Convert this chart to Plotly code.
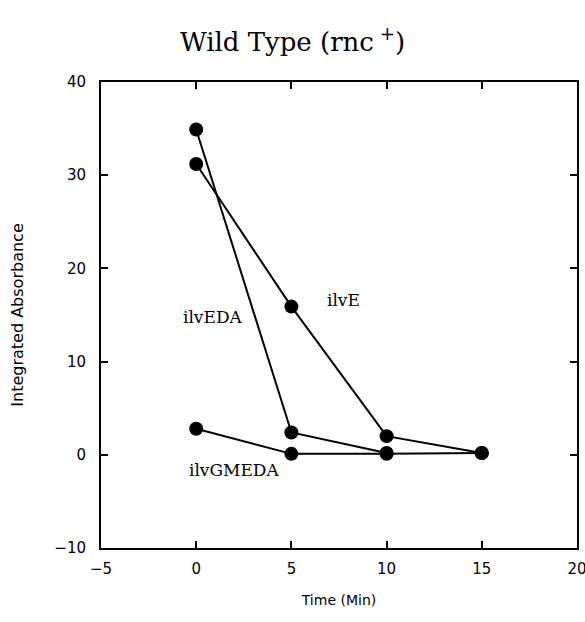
import plotly.graph_objects as go

time_eda = [0, 5, 10]
ilvEDA = [34.9, 2.4, 0.2]
time_e = [0, 5, 10, 15]
ilvE = [31.2, 15.9, 2.0, 0.2]
time_gmeda = [0, 5, 10, 15]
ilvGMEDA = [2.8, 0.1, 0.1, 0.2]

x_ticks = [-5, 0, 5, 10, 15, 20]
y_ticks = [-10, 0, 10, 20, 30, 40]

fig = go.Figure()
for xs, ys, name in [(time_eda, ilvEDA, "ilvEDA"), (time_e, ilvE, "ilvE"), (time_gmeda, ilvGMEDA, "ilvGMEDA")]:
    fig.add_trace(go.Scatter(x=xs, y=ys, mode="lines+markers", name=name,
                             line=dict(color="black", width=2),
                             marker=dict(color="black", size=14)))

labels = [("ilvEDA", 0.9, 14.8), ("ilvE", 7.75, 16.6), ("ilvGMEDA", 2.0, -1.6)]
for text, x, y in labels:
    fig.add_annotation(x=x, y=y, text=text, showarrow=False,
                       font=dict(family="DejaVu Serif", size=17, color="black"))

axis_common = dict(showline=True, linecolor="black", linewidth=2, mirror="ticks",
                   ticks="inside", ticklen=7, tickwidth=1.5, tickcolor="black",
                   showgrid=False, zeroline=False, automargin=False,
                   ticklabeloverflow="allow",
                   tickfont=dict(family="DejaVu Sans", size=15, color="black"))

def fmt(v):
    return ("\u2212" + str(-v)) if v < 0 else str(v)

fig.update_layout(
    width=585, height=622,
    margin=dict(l=101, r=8, t=82, b=74),
    plot_bgcolor="white", paper_bgcolor="white",
    showlegend=False,
    title=dict(text="Wild Type (rnc<sup> +</sup>)", x=0.5, xanchor="center", y=0.932, yanchor="middle",
               font=dict(family="DejaVu Serif", size=26, color="black")),
    xaxis=dict(range=[-5, 20], tickvals=x_ticks, ticktext=[fmt(v) for v in x_ticks],
               ticklabelstandoff=6,
               title=dict(text="Time (Min)", font=dict(family="DejaVu Sans", size=14, color="black"), standoff=18),
               **axis_common),
    yaxis=dict(range=[-10, 40], tickvals=y_ticks, ticktext=[fmt(v) for v in y_ticks],
               ticklabelstandoff=10,
               title=dict(text="Integrated Absorbance", font=dict(family="DejaVu Sans", size=16, color="black"), standoff=27),
               **axis_common),
)

fig.write_html("out.html")
